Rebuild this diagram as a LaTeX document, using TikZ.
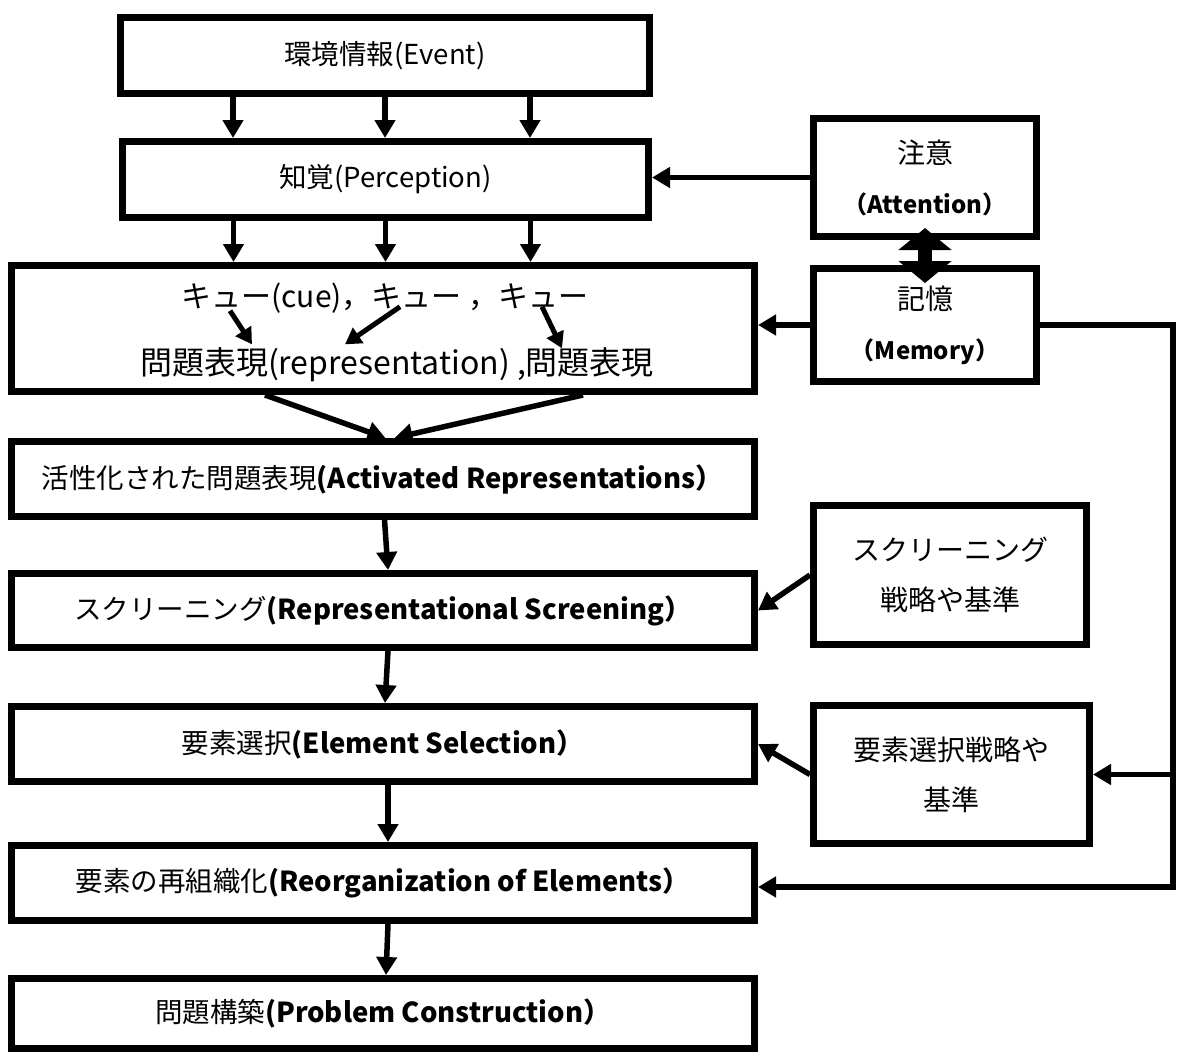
\documentclass[tikz,border=0pt]{standalone}
\usepackage{fontspec}
\setmainfont{Noto Sans CJK JP}
\usetikzlibrary{arrows.meta,positioning}
\tikzset{
  flowbox/.style={draw,line width=7pt,minimum width=743pt,minimum height=75pt,inner sep=0pt,align=center,font=\fontsize{27.5}{32}\selectfont},
  sidebox/.style={draw,line width=7pt,inner sep=0pt,align=center,font=\fontsize{28}{50}\selectfont},
  line/.style={-{Triangle[length=18pt,width=20pt]},line width=5.5pt},
  cueline/.style={-{Triangle[length=16pt,width=18pt]},line width=5pt},
  both/.style={{Triangle[length=22pt,width=52pt]}-{Triangle[length=22pt,width=52pt]},line width=14pt}
}
\begin{document}
\begin{tikzpicture}[x=1pt,y=-1pt]
  \useasboundingbox (0,0) rectangle (1180,1055);
  \node[flowbox,minimum width=529pt,minimum height=76pt] (event) at (385,55.5) {環境情報(Event)};
  \node[flowbox,minimum width=526pt,minimum height=76pt] (percept) at (385.5,179.5) {知覚(Perception)};
  \node[flowbox,minimum height=126pt] (cues) at (383,328.5) {};
  \node[font=\fontsize{30}{34}\selectfont] (cuetext) at (385,298) {キュー(cue)，キュー ，キュー};
  \node[font=\fontsize{32}{36}\selectfont] (reptext) at (397,365) {問題表現(representation) ,問題表現};
  \node[flowbox] (activ) at (382.5,479) {活性化された問題表現\textbf{(Activated Representations）}};
  \node[flowbox,minimum height=74pt] (screen) at (383,610.5) {スクリーニング\textbf{(Representational Screening）}};
  \node[flowbox] (select) at (383,744) {要素選択\textbf{(Element Selection）}};
  \node[flowbox] (reorg) at (383,883) {要素の再組織化\textbf{(Reorganization of Elements）}};
  \node[flowbox,minimum height=70pt] (build) at (383,1013.5) {問題構築\textbf{(Problem Construction）}};
  \node[sidebox,minimum width=223pt,minimum height=118pt] (attn) at (925,177.5) {注意\\{\fontsize{24}{50}\selectfont\textbf{（Attention）}}};
  \node[sidebox,minimum width=223pt,minimum height=113pt] (memory) at (925,325) {記憶\\{\fontsize{24}{50}\selectfont\textbf{（Memory）}}};
  \node[sidebox,minimum width=273pt,minimum height=139pt] (scrcrit) at (950,575) {スクリーニング\\戦略や基準};
  \node[sidebox,minimum width=276pt,minimum height=138pt] (selcrit) at (951.5,774.5) {要素選択戦略や\\基準};
  \coordinate (railtop) at (1173,327);
  \coordinate (railbot) at (1173,887);
  \foreach \dx in {-152,0,145} {
    \draw[line] ([xshift=\dx pt]event.south) -- ([xshift=\dx pt]event.south |- percept.north);
    \draw[line] ([xshift=\dx pt]percept.south) -- ([xshift=\dx pt]percept.south |- cues.north);
  }
  \draw[cueline] ([xshift=-155pt,yshift=6pt]cuetext.south) -- ([xshift=-145pt]reptext.north);
  \draw[cueline] ([xshift=15pt,yshift=10pt]cuetext.south) -- ([xshift=-52pt]reptext.north);
  \draw[cueline] ([xshift=157pt,yshift=10pt]cuetext.south) -- ([xshift=165pt,yshift=-4pt]reptext.north);
  \draw[line] ([xshift=-118pt]cues.south) -- ([xshift=3pt]activ.north);
  \draw[line] ([xshift=200pt]cues.south) -- ([xshift=12pt]activ.north);
  \draw[line] ([xshift=2pt]activ.south) -- ([xshift=5pt]screen.north);
  \draw[line] ([xshift=5pt]screen.south) -- ([xshift=2pt]select.north);
  \draw[line] ([xshift=5pt]select.south) -- ([xshift=5pt]reorg.north);
  \draw[line] ([xshift=5pt]reorg.south) -- ([xshift=3pt]build.north);
  \draw[line] (attn.west) -- (attn.west -| percept.east);
  \draw[both] ([yshift=12pt]attn.south) -- ([yshift=-18pt]memory.north);
  \draw[line] (memory.west) -- (memory.west -| cues.east);
  \draw[line] (scrcrit.west) -- (screen.east);
  \draw[line] (selcrit.west) -- (select.east);
  \draw[line] (memory.east) -| (railbot) -- (railbot -| reorg.east);
  \draw[line] (railtop |- selcrit.east) -- (selcrit.east);
\end{tikzpicture}
\end{document}
